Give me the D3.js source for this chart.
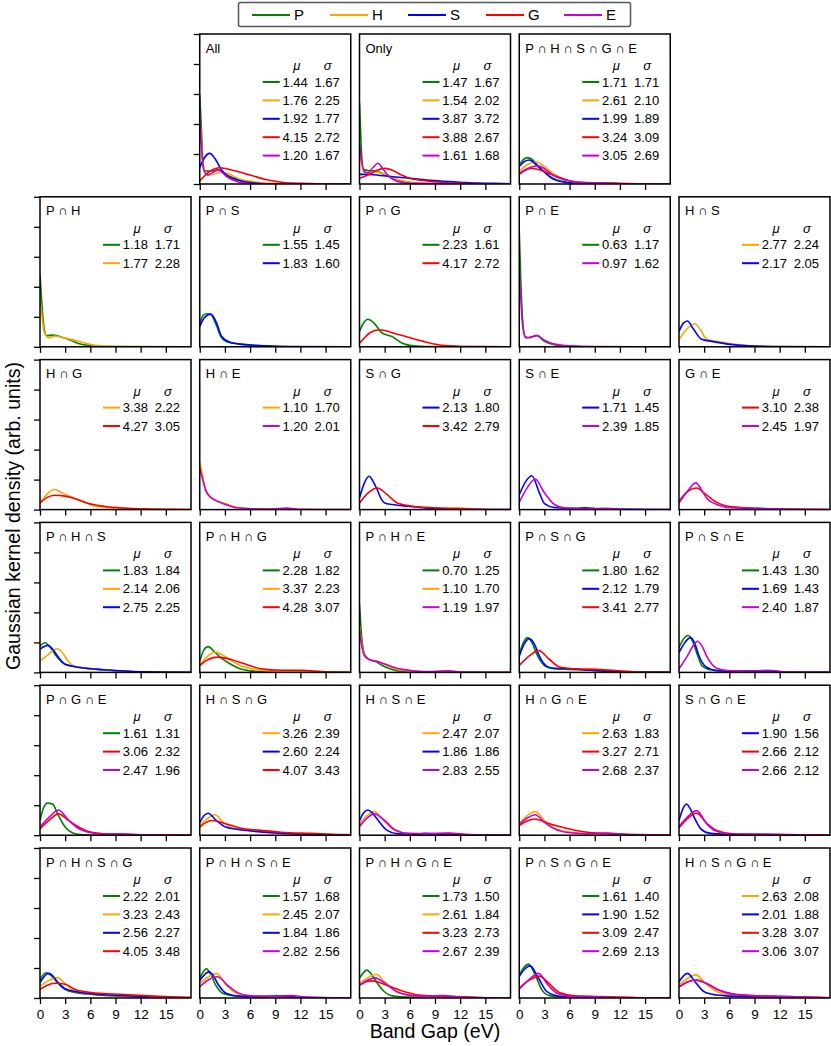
<!DOCTYPE html>
<html><head><meta charset="utf-8">
<script src="https://cdn.jsdelivr.net/npm/d3@7"></script>
<style>body{margin:0;background:#fff}svg{display:block;font-family:"Liberation Sans",Arial,sans-serif}</style>
</head><body><svg id="c" width="831" height="1046"></svg>
<script>
// ---------- data ----------
const seriesNames = ["P","H","S","G","E"];
const xTicks = [0,3,6,9,12,15];
const yTicks = [0,1,2,3,4,5];

const titles = ["All","Only","P ∩ H ∩ S ∩ G ∩ E",
 "P ∩ H","P ∩ S","P ∩ G","P ∩ E","H ∩ S",
 "H ∩ G","H ∩ E","S ∩ G","S ∩ E","G ∩ E",
 "P ∩ H ∩ S","P ∩ H ∩ G","P ∩ H ∩ E","P ∩ S ∩ G","P ∩ S ∩ E",
 "P ∩ G ∩ E","H ∩ S ∩ G","H ∩ S ∩ E","H ∩ G ∩ E","S ∩ G ∩ E",
 "P ∩ H ∩ S ∩ G","P ∩ H ∩ S ∩ E","P ∩ H ∩ G ∩ E","P ∩ S ∩ G ∩ E","H ∩ S ∩ G ∩ E"];

const members = ["PHSGE","PHSGE","PHSGE",
 "PH","PS","PG","PE","HS",
 "HG","HE","SG","SE","GE",
 "PHS","PHG","PHE","PSG","PSE",
 "PGE","HSG","HSE","HGE","SGE",
 "PHSG","PHSE","PHGE","PSGE","HSGE"];

const muValues = [
 [1.44,1.76,1.92,4.15,1.20],[1.47,1.54,3.87,3.88,1.61],[1.71,2.61,1.99,3.24,3.05],
 [1.18,1.77],[1.55,1.83],[2.23,4.17],[0.63,0.97],[2.77,2.17],
 [3.38,4.27],[1.10,1.20],[2.13,3.42],[1.71,2.39],[3.10,2.45],
 [1.83,2.14,2.75],[2.28,3.37,4.28],[0.70,1.10,1.19],[1.80,2.12,3.41],[1.43,1.69,2.40],
 [1.61,3.06,2.47],[3.26,2.60,4.07],[2.47,1.86,2.83],[2.63,3.27,2.68],[1.90,2.66,2.66],
 [2.22,3.23,2.56,4.05],[1.57,2.45,1.84,2.82],[1.73,2.61,3.23,2.67],[1.61,1.90,3.09,2.69],[2.63,2.01,3.28,3.06]];

const sigmaValues = [
 [1.67,2.25,1.77,2.72,1.67],[1.67,2.02,3.72,2.67,1.68],[1.71,2.10,1.89,3.09,2.69],
 [1.71,2.28],[1.45,1.60],[1.61,2.72],[1.17,1.62],[2.24,2.05],
 [2.22,3.05],[1.70,2.01],[1.80,2.79],[1.45,1.85],[2.38,1.97],
 [1.84,2.06,2.25],[1.82,2.23,3.07],[1.25,1.70,1.97],[1.62,1.79,2.77],[1.30,1.43,1.87],
 [1.31,2.32,1.96],[2.39,2.24,3.43],[2.07,1.86,2.55],[1.83,2.71,2.37],[1.56,2.12,2.12],
 [2.01,2.43,2.27,3.48],[1.68,2.07,1.86,2.56],[1.50,1.84,2.73,2.39],[1.40,1.52,2.47,2.13],[2.08,1.88,3.07,3.07]];

// kernel density curves: [band gap (eV), density (arb.)]
const kdeAll = {
 P:[[0,2.97],[0.2,1.8],[0.4,0.6],[0.6,0.45],[1.0,0.43],[1.5,0.44],[2.2,0.47],[3.2,0.3],[4.8,0.13],[6.3,0.04],[8,0.01],[18,0]],
 H:[[0,2.3],[0.2,1.4],[0.5,0.5],[1.0,0.3],[1.6,0.33],[2.6,0.4],[3.5,0.33],[4.8,0.16],[6.3,0.08],[8,0.02],[18,0]],
 S:[[0,0.55],[0.5,0.85],[1.2,1.02],[1.8,0.85],[2.6,0.47],[3.2,0.3],[4.8,0.11],[6.3,0.04],[8,0.01],[18,0]],
 G:[[0,0.1],[0.5,0.25],[1.2,0.42],[2.4,0.54],[4,0.45],[6,0.3],[8,0.14],[10,0.05],[12,0.02],[14,0.005],[18,0]],
 E:[[0,2.35],[0.2,1.3],[0.5,0.45],[0.9,0.3],[1.5,0.38],[2.2,0.47],[3.2,0.25],[4.4,0.08],[5.6,0.02],[8,0.005],[18,0]]};
const kdeOnly = {
 P:[[0,2.7],[0.15,1.6],[0.4,0.5],[1.0,0.45],[2.0,0.43],[3.2,0.28],[4.8,0.11],[6.3,0.04],[8,0.01],[18,0]],
 H:[[0,1.0],[0.2,0.75],[0.5,0.42],[1.0,0.38],[2.0,0.4],[3.0,0.33],[4.8,0.13],[6.3,0.05],[8,0.01],[18,0]],
 S:[[0,0.32],[1,0.32],[2,0.3],[4,0.24],[6,0.19],[8,0.13],[10,0.09],[12,0.06],[14,0.03],[16,0.02],[18,0.01]],
 G:[[0,0.19],[1,0.3],[2,0.45],[3,0.52],[4,0.45],[5,0.3],[6,0.19],[8,0.1],[10,0.05],[12,0.02],[14,0.01],[18,0]],
 E:[[0,1.35],[0.25,0.8],[0.6,0.4],[1.0,0.38],[1.6,0.55],[2.2,0.69],[2.8,0.5],[3.5,0.26],[4.5,0.08],[6,0.02],[18,0]]};
const kdePHSGE = {
 P:[[0,0.63],[0.5,0.82],[1.0,0.88],[1.7,0.78],[2.4,0.55],[3.2,0.35],[4,0.19],[5.6,0.06],[7,0.02],[9,0.01],[18,0]],
 H:[[0,0.43],[1,0.65],[2,0.74],[3,0.58],[4,0.36],[5.6,0.13],[7,0.05],[9,0.02],[11,0.01],[18,0]],
 S:[[0,0.58],[0.6,0.75],[1.2,0.8],[2.0,0.65],[2.8,0.45],[4,0.17],[5.6,0.05],[7,0.02],[9,0.01],[18,0]],
 G:[[0,0.32],[0.8,0.47],[1.5,0.52],[2.5,0.47],[4,0.3],[6,0.11],[8,0.05],[10,0.04],[12,0.02],[14,0.01],[18,0]],
 E:[[0,0.36],[1,0.52],[2.2,0.61],[3.2,0.47],[4,0.3],[6,0.1],[8,0.04],[10,0.04],[12,0.01],[18,0]]};
const kdePH = {
 P:[[0,2.4],[0.2,1.5],[0.5,0.6],[0.8,0.37],[1.6,0.39],[2.5,0.33],[3.2,0.27],[4.2,0.15],[4.8,0.09],[6,0.04],[7.5,0.01],[18,0]],
 H:[[0,1.6],[0.2,1.1],[0.5,0.5],[1.0,0.3],[1.8,0.36],[3.2,0.28],[4.8,0.17],[6.3,0.06],[8,0.02],[10,0.005],[18,0]]};
const kdePS = {
 P:[[0,0.78],[0.4,1.05],[0.8,1.1],[1.3,1.08],[2.0,0.7],[2.5,0.35],[3.2,0.17],[4.8,0.09],[6.4,0.05],[8,0.02],[11,0],[18,0]],
 S:[[0,0.67],[0.5,0.95],[1.3,1.09],[2.0,0.8],[2.6,0.35],[3.6,0.15],[4.8,0.09],[6.4,0.05],[8,0.03],[11,0.01],[18,0]]};
const kdePG = {
 P:[[0,0.51],[0.5,0.8],[1.0,0.92],[1.7,0.8],[2.7,0.46],[3.9,0.34],[5.1,0.12],[6.4,0.03],[8,0.005],[18,0]],
 G:[[0,0.12],[0.6,0.3],[1.2,0.46],[2.4,0.57],[3.9,0.47],[5.8,0.32],[7.6,0.18],[9.4,0.07],[11.8,0.02],[14,0.005],[18,0]]};
const kdePE = {
 P:[[0,3.9],[0.15,2.5],[0.4,0.9],[0.7,0.35],[1.2,0.3],[2.1,0.37],[3,0.18],[4.2,0.07],[6,0.02],[9,0],[18,0]],
 E:[[0,2.6],[0.15,1.8],[0.4,0.7],[0.8,0.3],[1.4,0.33],[2.1,0.38],[3,0.22],[4.2,0.09],[6,0.03],[9,0.01],[18,0]]};
const kdeHS = {
 H:[[0,0.23],[0.8,0.55],[1.9,0.77],[2.6,0.55],[3.3,0.25],[4.5,0.18],[6.4,0.09],[8.2,0.04],[11,0.01],[18,0]],
 S:[[0,0.51],[0.5,0.78],[1.0,0.86],[1.7,0.6],[2.7,0.25],[3.9,0.18],[5.8,0.09],[8.2,0.03],[11,0.01],[18,0]]};
const kdeHG = {
 H:[[0,0.22],[0.8,0.5],[1.7,0.67],[2.5,0.58],[3.3,0.47],[5.1,0.28],[6.4,0.13],[8.2,0.06],[10.6,0.03],[13,0.01],[18,0]],
 G:[[0,0.22],[0.8,0.4],[1.8,0.48],[3,0.45],[3.9,0.39],[5.8,0.2],[7.6,0.11],[10,0.05],[13,0.02],[15,0.01],[18,0]]};
const kdeHE = {
 H:[[0,1.58],[0.3,1.2],[0.7,0.67],[1.2,0.45],[1.6,0.36],[3.1,0.2],[4.4,0.08],[6.2,0.03],[9,0.02],[12,0.005],[18,0]],
 E:[[0,1.39],[0.3,1.05],[0.7,0.65],[1.2,0.43],[1.6,0.35],[3.1,0.17],[4.4,0.06],[6.2,0.03],[8.5,0.02],[10.4,0.05],[12,0.01],[18,0]]};
const kdeSG = {
 S:[[0,0.39],[0.6,0.9],[1.15,1.11],[1.6,0.95],[2.1,0.67],[2.6,0.35],[3,0.22],[3.9,0.17],[5.8,0.11],[8.2,0.05],[11.8,0.02],[18,0]],
 G:[[0,0.22],[1,0.55],[2.1,0.72],[3.3,0.5],[4.5,0.22],[6.4,0.11],[8.8,0.06],[11.8,0.04],[14.8,0.01],[18,0]]};
const kdeSE = {
 S:[[0,0.5],[0.8,0.95],[1.5,1.13],[2.4,0.56],[3,0.2],[4.2,0.07],[6.7,0.04],[7.9,0.06],[9.5,0.02],[18,0]],
 E:[[0,0.24],[1,0.75],[1.9,1.02],[3,0.56],[4.2,0.17],[5.5,0.05],[8,0.03],[10.3,0.04],[12.5,0.01],[18,0]]};
const kdeGE = {
 G:[[0,0.28],[1,0.6],[2.1,0.72],[3,0.55],[4.5,0.24],[6.4,0.09],[9.4,0.04],[13,0.01],[18,0]],
 E:[[0,0.22],[1,0.6],[2,0.89],[2.8,0.6],[3.3,0.38],[4.5,0.17],[6.4,0.06],[9.4,0.04],[12.4,0.02],[18,0]]};
const kdePHS = {
 P:[[0,0.88],[0.6,0.99],[1.2,0.85],[1.8,0.6],[3,0.27],[4.2,0.19],[5.8,0.12],[8.2,0.07],[10.6,0.03],[13,0.01],[18,0]],
 H:[[0,0.38],[0.8,0.55],[1.5,0.72],[2.1,0.79],[2.7,0.65],[3.3,0.4],[4.1,0.21],[5.8,0.14],[8.2,0.08],[10.6,0.04],[13,0.02],[18,0]],
 S:[[0,0.77],[0.9,0.9],[1.5,0.78],[2.1,0.54],[3,0.27],[4.2,0.19],[5.8,0.13],[8.2,0.08],[10.6,0.04],[13,0.02],[18,0]]};
const kdePHG = {
 P:[[0,0.38],[0.5,0.75],[1,0.86],[1.7,0.7],[2.5,0.49],[3.7,0.27],[4.8,0.12],[6,0.05],[8,0.01],[18,0]],
 H:[[0,0.23],[1,0.55],[1.9,0.68],[2.6,0.6],[3.4,0.46],[4.8,0.23],[6.7,0.1],[9.1,0.04],[12,0.01],[18,0]],
 G:[[0,0.23],[1,0.43],[2.2,0.51],[3.7,0.43],[5.5,0.27],[7.3,0.12],[9.7,0.07],[12.1,0.07],[14.5,0.03],[16.5,0.01],[18,0]]};
const kdePHE = {
 P:[[0,2.27],[0.2,1.4],[0.6,0.6],[1.2,0.43],[1.8,0.38],[2.7,0.23],[3.9,0.1],[5.1,0.03],[7,0.01],[18,0]],
 H:[[0,1.54],[0.2,1.1],[0.6,0.55],[1.2,0.42],[2.1,0.38],[3.3,0.23],[4.5,0.1],[6.4,0.03],[9,0.01],[18,0]],
 E:[[0,1.41],[0.2,1.0],[0.6,0.55],[1.2,0.42],[2.4,0.34],[3.9,0.19],[5.1,0.1],[7.6,0.03],[10.6,0.05],[12.5,0.01],[18,0]]};
const kdePSG = {
 P:[[0,0.6],[0.5,1.0],[1.0,1.16],[1.5,1.0],[2.1,0.6],[3,0.23],[3.9,0.13],[6.1,0.1],[8.5,0.07],[11,0.03],[14,0.01],[18,0]],
 S:[[0,0.54],[0.6,0.95],[1.2,1.12],[1.8,0.95],[2.4,0.54],[3.3,0.2],[4.2,0.14],[6.1,0.12],[8.5,0.07],[11,0.04],[14,0.01],[18,0]],
 G:[[0,0.23],[1.2,0.55],[2.3,0.73],[3.6,0.43],[4.8,0.18],[6.7,0.12],[9.1,0.1],[11.5,0.06],[14,0.02],[16,0.005],[18,0]]};
const kdePSE = {
 P:[[0,0.82],[0.5,1.1],[1.1,1.23],[1.6,1.05],[2.1,0.66],[2.8,0.2],[3.9,0.08],[6.4,0.04],[9.4,0.03],[12,0.01],[18,0]],
 S:[[0,0.66],[0.7,1.0],[1.4,1.16],[1.9,0.95],[2.4,0.54],[3.2,0.19],[4.5,0.06],[7,0.04],[10.6,0.05],[13,0.01],[18,0]],
 E:[[0,0.12],[1,0.55],[1.7,0.9],[2.2,1.04],[2.8,0.85],[3.3,0.54],[4.5,0.14],[5.8,0.06],[8.2,0.04],[10.6,0.07],[12.5,0.02],[18,0]]};
const kdePGE = {
 P:[[0,0.49],[0.4,0.9],[0.9,1.07],[1.5,1.04],[2.1,0.71],[3,0.27],[3.9,0.07],[5.1,0.01],[7,0],[18,0]],
 G:[[0,0.21],[1.1,0.5],[2.2,0.71],[3.3,0.51],[4.5,0.29],[5.8,0.12],[7.6,0.05],[10,0.03],[13,0.01],[18,0]],
 E:[[0,0.27],[1.1,0.6],[2.2,0.84],[3.3,0.54],[4.5,0.24],[5.8,0.1],[7.6,0.03],[10,0.04],[12,0.01],[18,0]]};
const kdeHSG = {
 H:[[0,0.32],[0.9,0.55],[1.8,0.68],[2.8,0.43],[4,0.24],[6.1,0.16],[8.5,0.09],[12,0.04],[15,0.01],[18,0.005]],
 S:[[0,0.43],[0.5,0.65],[1,0.73],[1.9,0.51],[3.1,0.27],[4.8,0.18],[7.3,0.11],[9.7,0.07],[13.3,0.02],[18,0.005]],
 G:[[0,0.27],[0.7,0.42],[1.5,0.49],[3.1,0.38],[4.8,0.24],[7.3,0.16],[9.7,0.1],[13.3,0.06],[17,0.02],[18,0.015]]};
const kdeHSE = {
 H:[[0,0.38],[0.9,0.65],[1.8,0.79],[2.7,0.54],[3.9,0.21],[5.1,0.07],[7.6,0.04],[10.6,0.06],[13,0.01],[18,0]],
 S:[[0,0.49],[0.5,0.75],[1,0.84],[1.5,0.75],[2.1,0.54],[3.3,0.16],[4.5,0.05],[6.4,0.04],[7.9,0.06],[10,0.03],[12,0.01],[18,0]],
 E:[[0,0.29],[0.9,0.57],[1.8,0.71],[3,0.49],[4.2,0.18],[5.8,0.06],[8.2,0.05],[10.6,0.07],[13,0.02],[15,0.005],[18,0]]};
const kdeHGE = {
 H:[[0,0.4],[1,0.66],[1.9,0.79],[3,0.49],[4.2,0.24],[6.1,0.1],[8.5,0.05],[10.3,0.07],[12.7,0.02],[15,0.005],[18,0]],
 G:[[0,0.32],[1,0.48],[1.8,0.54],[3.6,0.38],[5.5,0.24],[7.3,0.13],[9.1,0.07],[11.5,0.04],[14,0.02],[18,0.005]],
 E:[[0,0.36],[1,0.58],[1.9,0.68],[3,0.43],[4.2,0.21],[6.1,0.08],[8.5,0.05],[10.3,0.07],[12.7,0.02],[15,0.005],[18,0]]};
const kdeSGE = {
 S:[[0,0.49],[0.5,0.9],[0.9,1.04],[1.3,0.9],[1.8,0.6],[2.6,0.21],[3.6,0.07],[5.8,0.03],[8.2,0.02],[11,0.01],[18,0]],
 G:[[0,0.24],[1,0.55],[2.1,0.73],[3.3,0.4],[4.5,0.16],[6.4,0.05],[9.4,0.03],[13,0.02],[16,0.005],[18,0]],
 E:[[0,0.29],[1,0.6],[2.1,0.82],[3.3,0.38],[4.2,0.16],[5.8,0.05],[8.2,0.03],[10.6,0.03],[13,0.01],[18,0]]};
const kdePHSG = {
 P:[[0,0.6],[0.7,0.84],[1.2,0.78],[1.8,0.6],[3,0.28],[4.5,0.17],[6.4,0.12],[8.8,0.07],[11.8,0.04],[15,0.01],[18,0]],
 H:[[0,0.4],[1,0.58],[2.1,0.68],[3,0.48],[3.9,0.26],[5.8,0.14],[8.2,0.09],[11.8,0.05],[15,0.02],[18,0.01]],
 S:[[0,0.51],[1,0.82],[1.5,0.75],[2.1,0.53],[3,0.31],[4.5,0.2],[6.4,0.13],[8.8,0.09],[11.8,0.05],[15,0.02],[18,0.01]],
 G:[[0,0.29],[0.8,0.42],[1.8,0.49],[3,0.46],[4.2,0.28],[5.8,0.19],[8.2,0.14],[10.6,0.11],[13,0.07],[15.5,0.04],[18,0.02]]};
const kdePHSE = {
 P:[[0,0.66],[0.8,0.97],[1.3,0.8],[1.9,0.43],[2.8,0.15],[4.3,0.07],[6.7,0.04],[9.1,0.05],[11,0.02],[18,0]],
 H:[[0,0.49],[1,0.7],[2,0.82],[3.2,0.43],[4.3,0.16],[6.1,0.06],[9.1,0.05],[11.5,0.02],[18,0]],
 S:[[0,0.58],[1.1,0.87],[1.6,0.75],[2.2,0.45],[3.2,0.15],[4.8,0.06],[7.3,0.05],[9.7,0.07],[12,0.02],[18,0]],
 E:[[0,0.38],[1,0.6],[2.1,0.71],[3.4,0.4],[4.5,0.18],[6.1,0.07],[9.1,0.06],[10.9,0.08],[13,0.02],[18,0]]};
const kdePHGE = {
 P:[[0,0.66],[0.9,0.93],[1.4,0.8],[2,0.54],[3,0.2],[3.9,0.07],[5.8,0.03],[8.2,0.05],[10,0.02],[18,0]],
 H:[[0,0.49],[1,0.68],[2,0.79],[3,0.54],[4.2,0.26],[5.8,0.1],[8.2,0.06],[10,0.08],[12,0.02],[18,0]],
 G:[[0,0.43],[0.8,0.54],[1.5,0.57],[3.3,0.42],[5.1,0.23],[7,0.1],[9.4,0.06],[12.4,0.04],[15,0.01],[18,0]],
 E:[[0,0.43],[1,0.6],[1.8,0.67],[3.3,0.44],[4.5,0.2],[6.4,0.08],[8.2,0.06],[10,0.08],[12,0.03],[18,0]]};
const kdePSGE = {
 P:[[0,0.77],[0.5,1.0],[1.1,1.13],[1.9,0.77],[2.7,0.27],[3.6,0.08],[6.1,0.02],[9,0.01],[18,0]],
 S:[[0,0.71],[0.6,0.95],[1.3,1.07],[2.3,0.66],[3.3,0.21],[4.8,0.06],[7.3,0.03],[10,0.01],[18,0]],
 G:[[0,0.32],[1.2,0.6],[2.4,0.73],[3.6,0.47],[4.8,0.18],[6.7,0.07],[9.1,0.05],[12.1,0.03],[15,0.005],[18,0]],
 E:[[0,0.29],[1.2,0.62],[2.3,0.82],[3.3,0.48],[4.5,0.16],[6.1,0.06],[9.1,0.04],[12,0.01],[18,0]]};
const kdeHSGE = {
 H:[[0,0.43],[1,0.65],[2,0.77],[3.2,0.48],[4.2,0.26],[6.1,0.1],[8.2,0.07],[11.2,0.05],[14,0.02],[18,0]],
 S:[[0,0.54],[1,0.82],[2,0.51],[3,0.21],[4.5,0.1],[6.4,0.06],[9.4,0.04],[12,0.02],[18,0]],
 G:[[0,0.36],[0.9,0.52],[1.8,0.59],[3.3,0.48],[4.8,0.26],[6.7,0.12],[9.4,0.07],[12.4,0.05],[15.5,0.03],[18,0.01]],
 E:[[0,0.38],[1,0.53],[2.1,0.61],[3.3,0.48],[4.5,0.29],[6.4,0.13],[8.8,0.08],[11.8,0.06],[14.8,0.03],[18,0.01]]};

const kdeCurves = [kdeAll,kdeOnly,kdePHSGE,kdePH,kdePS,kdePG,kdePE,kdeHS,kdeHG,kdeHE,kdeSG,kdeSE,kdeGE,
 kdePHS,kdePHG,kdePHE,kdePSG,kdePSE,kdePGE,kdeHSG,kdeHSE,kdeHGE,kdeSGE,kdePHSG,kdePHSE,kdePHGE,kdePSGE,kdeHSGE];

// ---------- styling / layout ----------
const colors = {P:"#008000",H:"#FFA500",S:"#0000FF",G:"#FF0000",E:"#CC00CC"};
const panelW = 151, panelH = 150;
const colLeft = c => 40 + c*159.75;
const rowTop = r => 34 + r*162.8;
const fmt = d3.format(".2f");

const svg = d3.select("#c");
const defs = svg.append("defs");

function place(i){
  if (i < 3) return {row:0, col:i+1};
  return {row: 1 + Math.floor((i-3)/5), col: (i-3)%5};
}

const x = d3.scaleLinear().domain([0,18]).range([0,panelW]);
const y = d3.scaleLinear().domain([0,5]).range([panelH,0]);
const line = d3.line().x(d=>x(d[0])).y(d=>y(d[1])).curve(d3.curveMonotoneX);

titles.forEach((title,i)=>{
  const {row,col} = place(i);
  const L = colLeft(col), T = rowTop(row);
  const g = svg.append("g").attr("transform",`translate(${L},${T})`);
  defs.append("clipPath").attr("id","cp"+i).append("rect").attr("width",panelW).attr("height",panelH);

  const curves = kdeCurves[i];
  const gc = g.append("g").attr("clip-path",`url(#cp${i})`);
  seriesNames.forEach(s=>{
    if(!curves[s]) return;
    gc.append("path").datum(curves[s]).attr("d",line)
      .attr("fill","none").attr("stroke",colors[s]).attr("stroke-width",1.6)
      .attr("stroke-linejoin","round");
  });

  // x ticks
  const ax = g.append("g").attr("transform",`translate(0,${panelH})`)
    .call(d3.axisBottom(x).tickValues(xTicks).tickSize(6).tickPadding(5)
      .tickFormat(row===5 ? d3.format("d") : ""));
  ax.select(".domain").remove();
  ax.selectAll("line").attr("stroke","#000").attr("stroke-width",1.3);
  ax.selectAll("text").attr("font-size",13.5).attr("fill","#000").attr("font-family",'"Liberation Sans",Arial,sans-serif');

  if ((row===0 && col===1) || (row>0 && col===0)) {
    const ay = g.append("g").call(d3.axisLeft(y).tickValues(yTicks).tickSize(6).tickFormat(""));
    ay.select(".domain").remove();
    ay.selectAll("line").attr("stroke","#000").attr("stroke-width",1.3);
  }

  g.append("rect").attr("width",panelW).attr("height",panelH)
    .attr("fill","none").attr("stroke","#000").attr("stroke-width",1.5);

  g.append("text").attr("x",6).attr("y",18.6).attr("font-size",13).attr("fill","#000").text(title);

  // stats table
  const R = panelW;
  g.append("text").attr("x",R-54).attr("y",36).attr("text-anchor","middle")
    .attr("font-size",13).attr("font-style","italic").text("μ");
  g.append("text").attr("x",R-23).attr("y",36).attr("text-anchor","middle")
    .attr("font-size",13).attr("font-style","italic").text("σ");
  members[i].split("").forEach((s,k)=>{
    const cy = 48 + k*18.4;
    g.append("line").attr("x1",R-88).attr("x2",R-71).attr("y1",cy).attr("y2",cy)
      .attr("stroke",colors[s]).attr("stroke-width",2);
    g.append("text").attr("x",R-43).attr("y",cy+4.6).attr("text-anchor","end")
      .attr("font-size",13).text(fmt(muValues[i][k]));
    g.append("text").attr("x",R-11).attr("y",cy+4.6).attr("text-anchor","end")
      .attr("font-size",13).text(fmt(sigmaValues[i][k]));
  });
});

// legend
const lg = svg.append("g");
lg.append("rect").attr("x",238.5).attr("y",2.5).attr("width",392).attr("height",24).attr("rx",2)
  .attr("fill","#fff").attr("stroke","#555").attr("stroke-width",1.5);
seriesNames.forEach((s,k)=>{
  const x0 = 252 + k*78;
  lg.append("line").attr("x1",x0).attr("x2",x0+38).attr("y1",15).attr("y2",15)
    .attr("stroke",colors[s]).attr("stroke-width",2);
  lg.append("text").attr("x",x0+42).attr("y",20.4).attr("font-size",15).text(s);
});

// axis titles
svg.append("text").attr("x",435).attr("y",1038).attr("text-anchor","middle")
  .attr("font-size",19.6).text("Band Gap (eV)");
svg.append("text").attr("transform","translate(20,516) rotate(-90)").attr("text-anchor","middle")
  .attr("font-size",19.6).text("Gaussian kernel density (arb. units)");
</script></body></html>
